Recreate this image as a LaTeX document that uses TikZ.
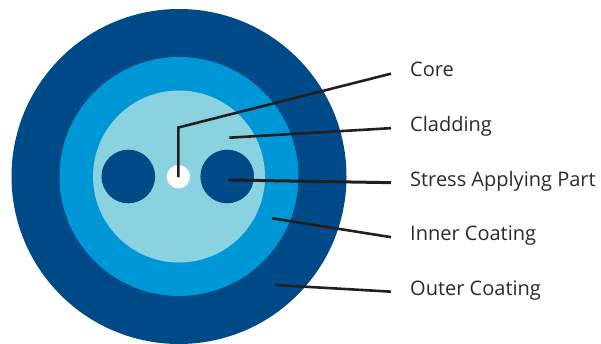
\documentclass[tikz,border=0pt]{standalone}
\usepackage{fontspec}
\setmainfont{Open Sans}
\usepackage{tikz}
\usetikzlibrary{calc}
\usetikzlibrary{positioning}
\definecolor{outerblue}{RGB}{0,75,135}
\definecolor{innerblue}{RGB}{0,151,214}
\definecolor{claddingblue}{RGB}{138,210,223}
\definecolor{leader}{RGB}{35,31,32}
\definecolor{labeltext}{RGB}{43,43,43}

\begin{document}
\begin{tikzpicture}[
			x=1pt, y=1pt,
			pointer/.style={
					draw=leader,
					line width=2.6pt,
					line cap=butt,
					line join=miter
				},
			part/.style={
					anchor=base west,
					inner sep=0pt,
					text=labeltext,
					font=\fontsize{20}{22}\selectfont,
					text height=1.5ex, % Height above the baseline
					text depth=0.25ex  % Depth below the baseline
				}
		]
		\useasboundingbox (0, 0) rectangle (601, 343);

		% fibre cross-section
		\fill[outerblue] (179, 166.5) circle (167.5);
		\fill[innerblue] (179, 166.5) circle (119.5);
		\fill[claddingblue] (179, 166.5) circle (86);
		\fill[outerblue] (128.3, 166.5) circle (26.8);
		\fill[outerblue] (227.2, 166.5) circle (26.8);
		\fill[white] (178.4, 166.3) circle (11.7);

		\node[part] (core) at (410, 266) {Core};
		\node[part] (cladding) at (410, 211.5) {Cladding};
		\node[part] (stress) at (410, 157) {Stress Applying Part};
		\node[part] (inner) at (410, 102.5) {Inner Coating};
		\node[part] (outer) at (410, 48) {Outer Coating};

		\coordinate (coreTip) at (178.4, 166);
		\coordinate (coreBend) at (178.4, 215.5);
		\coordinate (claddingTip) at (229.3, 205.3);
		\coordinate (stressTip) at (228.3, 163);
		\coordinate (innerTip) at (272.3, 124.7);
		\coordinate (outerTip) at (275.3, 58);

		\draw[pointer] (coreTip) -- (coreBend) -- ([xshift=-19pt]core.west);
		\draw[pointer] (claddingTip) -- ([xshift=-19pt]cladding.west);
		\draw[pointer, line width=3pt] (stressTip) -- ([xshift=-19pt]stress.west);
		\draw[pointer] (innerTip) -- ([xshift=-19pt]inner.west);
		\draw[pointer] (outerTip) -- ([xshift=-19pt]outer.west);
	\end{tikzpicture}
\end{document}
